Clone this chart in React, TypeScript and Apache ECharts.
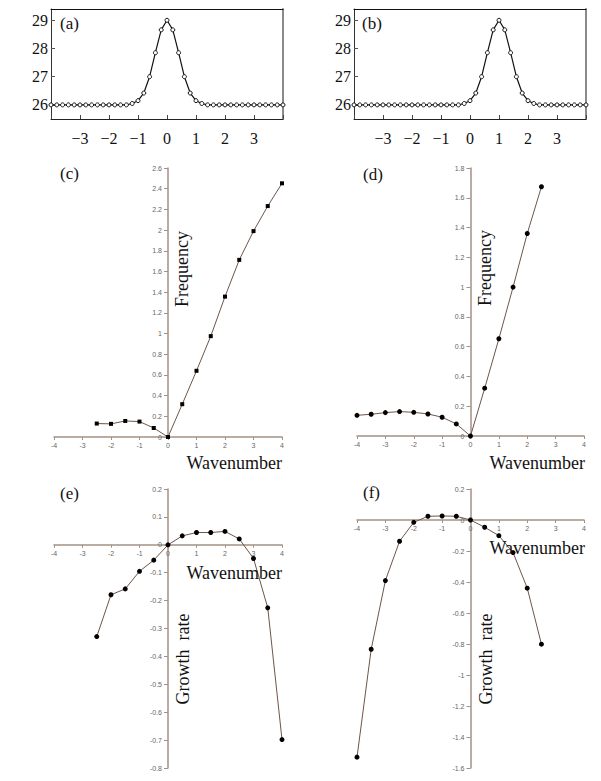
import React, { useEffect, useRef } from "react";
import * as echarts from "echarts";

// ---- data ----
const xGrid = [
  -4, -3.8, -3.6, -3.4, -3.2, -3, -2.8, -2.6, -2.4, -2.2, -2, -1.8, -1.6, -1.4, -1.2, -1, -0.8, -0.6, -0.4, -0.2,
  0, 0.2, 0.4, 0.6, 0.8, 1, 1.2, 1.4, 1.6, 1.8, 2, 2.2, 2.4, 2.6, 2.8, 3, 3.2, 3.4, 3.6, 3.8, 4,
];
const yA = [
  26, 26, 26, 26, 26, 26, 26, 26, 26, 26, 26, 26, 26, 26,
  26.05, 26.15, 26.42, 27.0, 27.85, 28.66, 29.0, 28.66, 27.85, 27.0, 26.42, 26.15, 26.05,
  26, 26, 26, 26, 26, 26, 26, 26, 26, 26, 26, 26, 26, 26,
];
const yB = [
  26, 26, 26, 26, 26, 26, 26, 26, 26, 26, 26, 26, 26, 26, 26, 26, 26, 26, 26,
  26.05, 26.15, 26.42, 27.0, 27.85, 28.66, 29.0, 28.66, 27.85, 27.0, 26.42, 26.15, 26.05,
  26, 26, 26, 26, 26, 26, 26, 26, 26,
];
const topYTicks = [26, 27, 28, 29];

const xC = [-2.5, -2, -1.5, -1, -0.5, 0, 0.5, 1, 1.5, 2, 2.5, 3, 3.5, 4];
const freqC = [0.13, 0.127, 0.155, 0.149, 0.087, 0, 0.317, 0.64, 0.975, 1.357, 1.712, 1.99, 2.232, 2.452];

const xD = [-4, -3.5, -3, -2.5, -2, -1.5, -1, -0.5, 0, 0.5, 1, 1.5, 2, 2.5];
const freqD = [0.139, 0.146, 0.157, 0.164, 0.159, 0.148, 0.126, 0.081, 0, 0.321, 0.653, 1.0, 1.36, 1.674];

const xE = [-2.5, -2, -1.5, -1, -0.5, 0, 0.5, 1, 1.5, 2, 2.5, 3, 3.5, 4];
const growthE = [-0.329, -0.179, -0.158, -0.095, -0.055, 0, 0.032, 0.044, 0.044, 0.048, 0.021, -0.049, -0.226, -0.698];

const xF = [-4, -3.5, -3, -2.5, -2, -1.5, -1, -0.5, 0, 0.5, 1, 1.5, 2, 2.5];
const growthF = [-1.53, -0.834, -0.391, -0.137, -0.015, 0.024, 0.026, 0.024, 0, -0.047, -0.101, -0.21, -0.44, -0.801];

const zip = (xs: number[], ys: number[]) => xs.map((x, i) => [x, ys[i]]);

const SERIF = '"Liberation Serif", "Times New Roman", serif';
const SANS = '"Liberation Sans", Arial, sans-serif';
const AXIS_BROWN = "#a39184";
const LINE_BROWN = "#6f5548";

const minusFmt = (v: number) =>
  v === -4 || v === 4 ? "" : v < 0 ? "\u2212" + String(-v) : String(v);

export default function App() {
  const ref = useRef<HTMLDivElement>(null);

  useEffect(() => {
    if (!ref.current) return;
    const chart = echarts.init(ref.current, null, { renderer: "svg" });

    const grids = [
      { left: 51, top: 9, width: 232, height: 110 }, // a
      { left: 354, top: 9, width: 232, height: 110 }, // b
      { left: 54, top: 168, width: 228, height: 269 }, // c
      { left: 357, top: 168, width: 227, height: 268 }, // d
      { left: 54, top: 489, width: 228, height: 279 }, // e
      { left: 357, top: 489, width: 227, height: 279 }, // f
    ];

    const xAxis: any[] = [];
    const yAxis: any[] = [];
    const series: any[] = [];

    // top panels
    [0, 1].forEach((g) => {
      xAxis.push({
        type: "value",
        gridIndex: g,
        min: -4,
        max: 4,
        interval: 1,
        axisLine: { onZero: false, lineStyle: { color: "#222", width: 1 } },
        axisTick: { inside: true, length: 4, lineStyle: { color: "#444" } },
        axisLabel: {
          formatter: minusFmt,
          fontFamily: SERIF,
          fontSize: 16,
          color: "#111",
          margin: 11,
        },
        splitLine: { show: false },
      });
      xAxis.push({
        type: "value",
        gridIndex: g,
        position: "top",
        min: -4,
        max: 4,
        axisLine: { onZero: false, lineStyle: { color: "#111", width: 1 } },
        axisTick: { show: false },
        axisLabel: { show: false },
        splitLine: { show: false },
      });
      yAxis.push({
        type: "value",
        gridIndex: g,
        min: 25.5,
        max: 29.4,
        axisLine: { show: true, onZero: false, lineStyle: { color: "#333", width: 1 } },
        axisTick: { show: true, inside: true, length: 4, customValues: topYTicks, lineStyle: { color: "#555" } },
        axisLabel: {
          customValues: topYTicks,
          fontFamily: SERIF,
          fontSize: 16,
          color: "#111",
          margin: 3,
        },
        splitLine: { show: false },
      });
      yAxis.push({
        type: "value",
        gridIndex: g,
        position: "right",
        min: 25.5,
        max: 29.4,
        axisLine: { show: true, onZero: false, lineStyle: { color: "#8a8a8a", width: 2 } },
        axisTick: { show: false },
        axisLabel: { show: false },
        splitLine: { show: false },
      });
    });

    const gaussData = [zip(xGrid, yA), zip(xGrid, yB)];
    gaussData.forEach((d, g) => {
      series.push({
        type: "line",
        xAxisIndex: g * 2,
        yAxisIndex: g * 2,
        data: d,
        symbol: "circle",
        symbolSize: 4,
        showSymbol: true,
        lineStyle: { color: "#111", width: 1.2 },
        itemStyle: { color: "#fff", borderColor: "#111", borderWidth: 1 },
        z: 3,
      });
    });

    // lower panels (axes cross at the origin)
    const lower = [
      { g: 2, min: 0, max: 2.6, interval: 0.2, data: zip(xC, freqC), symbol: "rect", size: 4 },
      { g: 3, min: 0, max: 1.8, interval: 0.2, data: zip(xD, freqD), symbol: "circle", size: 5 },
      { g: 4, min: -0.8, max: 0.2, interval: 0.1, data: zip(xE, growthE), symbol: "circle", size: 5 },
      { g: 5, min: -1.6, max: 0.2, interval: 0.2, data: zip(xF, growthF), symbol: "circle", size: 5 },
    ];
    const XMIN = -4;
    const XMAX = 4;
    lower.forEach((p) => {
      const gr = grids[p.g];
      const xi = xAxis.length;
      const yi = yAxis.length;
      // distance from the grid's bottom edge to y=0, and from left edge to x=0
      const yZeroFromBottom = ((0 - p.min) / (p.max - p.min)) * gr.height;
      const xZeroFromLeft = ((0 - XMIN) / (XMAX - XMIN)) * gr.width;
      xAxis.push({
        type: "value",
        gridIndex: p.g,
        min: XMIN,
        max: XMAX,
        interval: 1,
        offset: -yZeroFromBottom,
        axisLine: { onZero: false, lineStyle: { color: AXIS_BROWN, width: 1.5 } },
        axisTick: { length: 3, lineStyle: { color: AXIS_BROWN } },
        axisLabel: { fontFamily: SANS, fontSize: 7, color: "#666", margin: 5 },
        splitLine: { show: false },
      });
      yAxis.push({
        type: "value",
        gridIndex: p.g,
        min: p.min,
        max: p.max,
        interval: p.interval,
        offset: -xZeroFromLeft,
        axisLine: { show: true, onZero: false, lineStyle: { color: AXIS_BROWN, width: 1.5 } },
        axisTick: { show: true, length: 4, lineStyle: { color: AXIS_BROWN } },
        axisLabel: {
          fontFamily: SANS,
          fontSize: 7,
          color: "#666",
          margin: 6,
          formatter: (v: number) => String(Math.round(v * 10) / 10),
        },
        splitLine: { show: false },
      });
      series.push({
        type: "line",
        xAxisIndex: xi,
        yAxisIndex: yi,
        data: p.data,
        symbol: p.symbol,
        symbolSize: p.size,
        lineStyle: { color: LINE_BROWN, width: 1 },
        itemStyle: { color: "#000" },
        z: 3,
      });
    });

    const txt = (text: string, x: number, y: number, size: number, align = "left", rotation = 0) => ({
      type: "text",
      x,
      y,
      rotation,
      z: 10,
      style: {
        text,
        fontFamily: SERIF,
        fontSize: size,
        fill: "#111",
        align,
        verticalAlign: "middle",
      },
    });

    const R = Math.PI / 2;
    const graphic = [
      txt("(a)", 60, 23, 17),
      txt("(b)", 362, 23, 17),
      txt("(c)", 60, 173, 17),
      txt("(d)", 363, 174, 17),
      txt("(e)", 60, 493, 17),
      txt("(f)", 363, 492, 17),
      txt("Frequency", 182, 269, 18, "center", R),
      txt("Frequency", 485, 268, 18, "center", R),
      txt("Wavenumber", 282, 463, 18, "right"),
      txt("Wavenumber", 585, 463, 18, "right"),
      txt("Wavenumber", 282, 573, 18, "right"),
      txt("Wavenumber", 585, 548, 18, "right"),
      txt("Growth  rate", 183, 659, 18, "center", R),
      txt("Growth  rate", 486, 659, 18, "center", R),
    ];

    chart.setOption({
      animation: false,
      backgroundColor: "#fff",
      grid: grids,
      xAxis,
      yAxis,
      series,
      graphic,
    });

    return () => chart.dispose();
  }, []);

  return (
    <div
      ref={ref}
      style={{ position: "fixed", left: 0, top: 0, width: 601, height: 781, background: "#fff" }}
    />
  );
}
